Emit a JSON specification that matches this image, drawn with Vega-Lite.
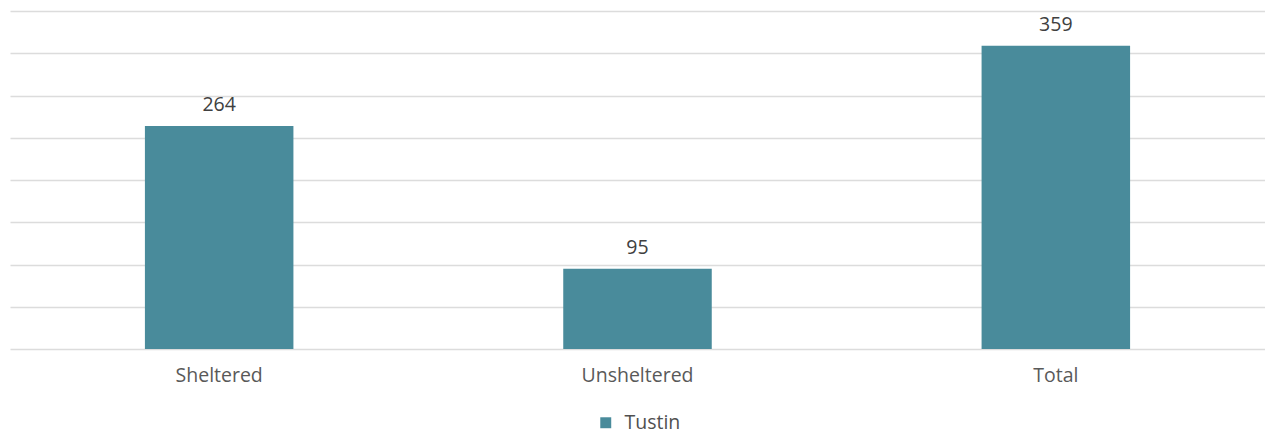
{
  "$schema": "https://vega.github.io/schema/vega-lite/v6.json",
  "autosize": "none",
  "padding": {"left": 10, "top": 11, "right": 0, "bottom": 83},
  "width": 1255,
  "height": 338,
  "background": "white",
  "config": {
    "view": {"stroke": null},
    "font": "Open Sans"
  },
  "data": {
    "values": [
      {"category": "Sheltered", "count": 264, "series": "Tustin"},
      {"category": "Unsheltered", "count": 95, "series": "Tustin"},
      {"category": "Total", "count": 359, "series": "Tustin"}
    ]
  },
  "encoding": {
    "x": {
      "field": "category",
      "type": "nominal",
      "sort": null,
      "scale": {"paddingInner": 0.645, "paddingOuter": 0.3225},
      "axis": {
        "title": null,
        "labelAngle": 0,
        "labelFontSize": 19.5,
        "labelColor": "#595959",
        "labelPadding": 17,
        "ticks": false,
        "domain": false,
        "grid": false
      }
    },
    "y": {
      "field": "count",
      "type": "quantitative",
      "scale": {"domain": [0, 400]},
      "axis": {
        "title": null,
        "values": [0, 50, 100, 150, 200, 250, 300, 350, 400],
        "labels": false,
        "ticks": false,
        "domain": false,
        "grid": true,
        "gridColor": "#dcdcdc",
        "gridWidth": 1.5
      }
    }
  },
  "layer": [
    {
      "mark": {"type": "bar", "color": "#498b9b"},
      "encoding": {
        "color": {
          "field": "series",
          "type": "nominal",
          "scale": {"range": ["#498b9b"]},
          "legend": {
            "title": null,
            "orient": "none",
            "legendX": 586,
            "legendY": 402,
            "padding": 0,
            "symbolType": "square",
            "symbolSize": 120,
            "labelFontSize": 19.5,
            "labelColor": "#505050",
            "labelOffset": 9
          }
        }
      }
    },
    {
      "mark": {"type": "text", "dy": -21, "fontSize": 19.5, "color": "#404040"},
      "encoding": {
        "text": {"field": "count", "type": "quantitative"}
      }
    }
  ]
}
